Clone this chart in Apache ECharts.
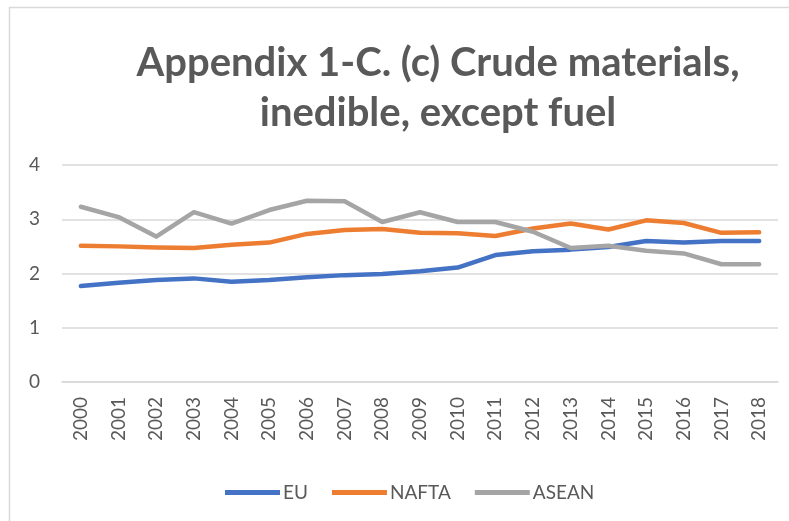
<!DOCTYPE html>
<html>
<head>
<meta charset="utf-8">
<script src="https://cdn.jsdelivr.net/npm/echarts@6/dist/echarts.min.js"></script>
<style>
  html, body { margin: 0; padding: 0; background: #fff; }
  #chart { width: 789px; height: 521px; }
</style>
</head>
<body>
<div id="chart"></div>
<script>
  const years = ['2000', '2001', '2002', '2003', '2004', '2005', '2006', '2007', '2008', '2009',
    '2010', '2011', '2012', '2013', '2014', '2015', '2016', '2017', '2018']
  const eu = [1.77, 1.83, 1.88, 1.91, 1.85, 1.88, 1.93, 1.97, 1.99, 2.04,
    2.11, 2.34, 2.41, 2.44, 2.49, 2.60, 2.57, 2.60, 2.60]
  const nafta = [2.51, 2.50, 2.48, 2.47, 2.53, 2.57, 2.73, 2.80, 2.82, 2.75,
    2.74, 2.69, 2.83, 2.92, 2.81, 2.98, 2.93, 2.75, 2.76]
  const asean = [3.23, 3.04, 2.68, 3.13, 2.92, 3.17, 3.34, 3.33, 2.95, 3.13,
    2.95, 2.95, 2.77, 2.47, 2.51, 2.42, 2.37, 2.17, 2.17]

  const font = 'Lato, "Open Sans", sans-serif'
  const chart = echarts.init(document.getElementById('chart'))

  function line(name, data, color) {
    return {
      name: name,
      type: 'line',
      data: data,
      symbol: 'none',
      lineStyle: { width: 4.5, color: color, cap: 'round', join: 'round' },
      itemStyle: { color: color }
    }
  }

  chart.setOption({
    animation: false,
    title: {
      text: 'Appendix 1-C. (c) Crude materials,\ninedible, except fuel',
      left: 433,
      top: 33,
      textAlign: 'center',
      textStyle: {
        fontFamily: font,
        fontSize: 40,
        fontWeight: 'bold',
        color: '#595959',
        lineHeight: 50
      }
    },
    graphic: [{
      type: 'rect',
      shape: { x: 9.5, y: 7.5, width: 800, height: 600 },
      style: { fill: 'none', stroke: '#d9d9d9', lineWidth: 1.5 },
      silent: true
    }],
    legend: {
      data: ['EU', 'NAFTA', 'ASEAN'],
      left: 220,
      top: 478,
      icon: 'rect',
      itemWidth: 55,
      itemHeight: 5,
      itemGap: 24,
      textStyle: { fontFamily: font, fontSize: 19, color: '#595959', padding: [0, 0, 0, -2] }
    },
    grid: { left: 62, right: 11, top: 165, bottom: 139 },
    xAxis: {
      type: 'category',
      data: years,
      boundaryGap: true,
      axisLine: { lineStyle: { color: '#d9d9d9', width: 1.5 } },
      axisTick: { show: false },
      axisLabel: {
        rotate: 90,
        margin: 15,
        interval: 0,
        fontFamily: font,
        fontSize: 19,
        color: '#595959'
      }
    },
    yAxis: {
      type: 'value',
      min: 0,
      max: 4,
      interval: 1,
      axisLine: { show: false },
      axisTick: { show: false },
      splitLine: { lineStyle: { color: '#d9d9d9', width: 1.5 } },
      axisLabel: {
        margin: 22,
        fontFamily: font,
        fontSize: 19,
        color: '#595959'
      }
    },
    series: [
      line('EU', eu, '#4472C4'),
      line('NAFTA', nafta, '#ED7D31'),
      line('ASEAN', asean, '#A5A5A5')
    ]
  })
</script>
</body>
</html>
